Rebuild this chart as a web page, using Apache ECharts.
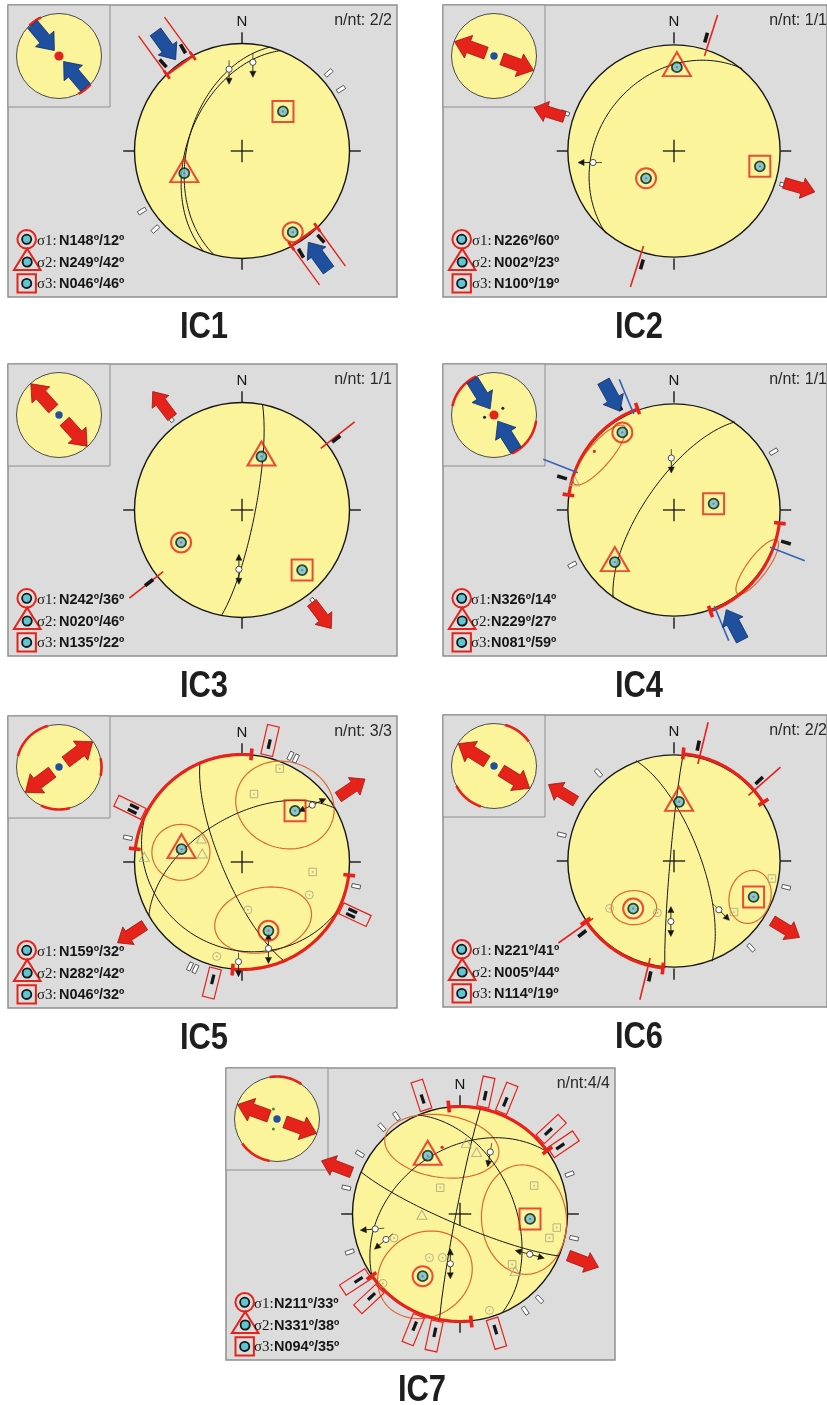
<!DOCTYPE html>
<html>
<head>
<meta charset="utf-8">
<script src="https://cdn.jsdelivr.net/npm/echarts@6/dist/echarts.min.js"></script>
<style>
html,body{margin:0;padding:0;background:#ffffff;}
#chart{width:827px;height:1405px;}
</style>
</head>
<body>
<div id="chart"></div>
<script>
// ================= DATA =================
const panelNames = ['IC1','IC2','IC3','IC4','IC5','IC6','IC7'];
const nntLabels = ['n/nt: 2/2','n/nt: 1/1','n/nt: 1/1','n/nt: 1/1','n/nt: 3/3','n/nt: 2/2','n/nt:4/4'];
// principal stress axes [trend, plunge]
const sigma1 = [[148,12],[226,60],[242,36],[326,14],[159,32],[221,41],[211,33]];
const sigma2 = [[249,42],[2,23],[20,46],[229,27],[282,42],[5,44],[331,38]];
const sigma3 = [[46,46],[100,19],[135,22],[81,59],[46,32],[114,19],[94,35]];
const legendSpace = [true,true,true,false,true,true,false];
// C = compression (blue arrows), E = extension (red arrows)
const regime = ['C','E','E','C','E','E','E'];
// fault planes [dip direction, dip]
const faultPlanes = [
  [[285,48],[291,48]],
  [[310,30]],
  [[101,80]],
  [[305,68]],
  [[247,75],[330,55],[206,20]],
  [[275,87],[69,70]],
  [[203,82],[281,87],[67,48],[325,40]]
];
// slip lineations [trend, plunge, arrow azimuth, double-headed?]
const slipLineations = [
  [[351,24,180,0],[7,18,180,0]],
  [[262,24,270,0]],
  [[183,44,0,1]],
  [[357,50,180,0]],
  [[51,17,65,1],[163,17,0,1],[182,8,180,0]],
  [[183,43,0,1],[137,38,135,0]],
  [[260,21,265,0],[251,28,230,0],[26,36,190,0],[191,51,0,1],[120,26,105,1]]
];
// individual solutions (grey symbols) [trend, plunge]
const graySquares = [[],[],[],[],[[22,7],[10,36],[98,34]],[[100,7],[130,27]],[[323,65],[69,27],[98,10],[105,15],[134,33]]];
const grayTriangles = [[],[],[],[[286,3]],[[300,54],[282,59],[273,10]],[],[[5,34],[15,40],[269,61],[136,27]]];
const grayCircles = [[],[],[],[],[[116,31],[173,53],[195,10]],[[234,26],[198,48]],[[250,35],[215,49],[202,54],[163,7],[228,4]]];
const smallRedDots = [[],[],[],[[306,8]],[],[],[[345,36]]];
// confidence ellipses [trend, plunge of centre, semi-axis a, semi-axis b, rotation deg]
const ellipses = [
  [],[],[],
  [[306,14,0.357,0.11,49],[124,6,0.31,0.093,53]],
  [[37,34,0.465,0.40,-20],[279,42,0.27,0.26,0],[160,42,0.456,0.30,12]],
  [[221,42,0.214,0.158,0],[115,22,0.25,0.195,75]],
  [[345,35,0.535,0.29,-8],[95,40,0.51,0.395,95],[210,35,0.456,0.39,30]]
];
// horizontal stress direction arrows (azimuth)
const bigArrowAz = [[324,144],[287,106],[323,143],[331,152],[56,237],[301,121],[291,111]];
const insetArrowAz = [320,290,318,328,53,302,290];
const insetArcs = [[[316,335],[132,153]],[],[],[[282,335],[98,155]],[[285,345],[78,102],[165,205]],[[15,55],[198,242]],[[350,395],[190,235]]];
const insetDots = [[],[],[],[[256,0.23],[53,0.26]],[],[],[[340,0.25],[200,0.25]]];
// perimeter marks (azimuths)
const perimArcs = [[],[],[],[[278,340],[97,160]],[[277,365],[97,185]],[[5,57],[186,236]],[[354,414],[174,235]]];
const brackets = [[324,144],[],[],[],[],[],[]];
const redLines = [[],[18,198],[52,232],[],[],[14,49,194,235],[]];
const blueLines = [[],[],[],[291,111,337,157],[],[],[]];
const blackBars = [[318,330,138,150],[16,196],[53,232],[286,106,332],[],[12,47,192,232],[]];
const whiteBars = [
  [[48,1],[58,1],[228,1],[239,1]],
  [[289,1],[107,1]],
  [[322,1],[142,1]],
  [[60,1],[242,1]],
  [[26,2],[282,1],[102,1],[205,2]],
  [[319,1],[283,1],[103,1],[138,1]],
  [[327,1],[318,1],[301,1],[283,1],[251,1],[70,1],[102,1],[137,1],[146,1]]
];
const redBoxes = [[],[],[],[],[[13,1],[296,2],[115,2],[194,1]],[],[[342,1],[12,1],[22,1],[47,1],[56,1],[237,1],[227,1],[202,1],[192,1],[163,1]]];

// ================= STYLE / LAYOUT =================
const D = Math.PI / 180;
const YEL = '#fcf49a', RED = '#e5231b', RED_D = '#9e1510', BLUE = '#1f50a0', BLUE_D = '#0e2d63', BLUE_L = '#3563b8';
const TEAL = '#5dc6d3', ORANGE = '#dd6a2e', GRAY = '#a3a283', INK = '#161616', PANEL = '#dcdcdc', BORDER = '#8e8e8e';
const W = 389, H = 292, CX = 234, CY = 146, RR = 107.5, INS = 102, INR = 42.5;
const panelOrigin = [[8,5],[443,5],[8,364],[443,364],[8,716],[443,715],[226,1068]];
const SANS = '"Liberation Sans", Arial, Helvetica, sans-serif';

function pol(az, r) { return [r * Math.sin(az * D), r * Math.cos(az * D)]; }
function proj(tp) { return pol(tp[0], Math.SQRT2 * Math.sin((90 - tp[1]) / 2 * D)); }
function greatCircle(dd, dip) {
  const pts = [];
  for (let a = -90; a <= 90; a += 1) {
    const ad = Math.atan(Math.tan(dip * D) * Math.cos(a * D)) / D;
    pts.push(proj([dd + a, ad]));
  }
  return pts;
}
function seg(p, q, color, w) { return {type:'line', shape:{x1:p[0], y1:p[1], x2:q[0], y2:q[1]}, style:{stroke:color, lineWidth:w}}; }
function poly(points, fill, stroke, w) { return {type:'polygon', shape:{points:points}, style:{fill:fill, stroke:stroke, lineWidth:w || 0}}; }
function unitDir(p, q) { const dx = q[0]-p[0], dy = q[1]-p[1], L = Math.hypot(dx, dy) || 1; return [dx/L, dy/L]; }
function bandPts(p, q, w, off) {
  const u = unitDir(p, q), n = [-u[1], u[0]], a = off + w/2, b = off - w/2;
  return [[p[0]+n[0]*a, p[1]+n[1]*a], [q[0]+n[0]*a, q[1]+n[1]*a], [q[0]+n[0]*b, q[1]+n[1]*b], [p[0]+n[0]*b, p[1]+n[1]*b]];
}
function offsetSeg(p, q, off) { const u = unitDir(p, q), n = [-u[1], u[0]]; return [[p[0]+n[0]*off, p[1]+n[1]*off], [q[0]+n[0]*off, q[1]+n[1]*off]]; }
function arrowPts(t, h, bw, hw, hl) {
  const u = unitDir(t, h), n = [-u[1], u[0]], b = [h[0]-u[0]*hl, h[1]-u[1]*hl];
  return [[t[0]+n[0]*bw, t[1]+n[1]*bw], [b[0]+n[0]*bw, b[1]+n[1]*bw], [b[0]+n[0]*hw, b[1]+n[1]*hw], h,
          [b[0]-n[0]*hw, b[1]-n[1]*hw], [b[0]-n[0]*bw, b[1]-n[1]*bw], [t[0]-n[0]*bw, t[1]-n[1]*bw]];
}
function txt(x, y, s, font, align, fill) {
  return {type:'text', x:x, y:y, z:100, style:{text:s, font:font, fill:fill || INK, align:align, textAlign:align, verticalAlign:'middle', textVerticalAlign:'middle'}};
}
function fmtAxis(v) { return 'N' + String(v[0]).padStart(3, '0') + 'º/' + String(v[1]).padStart(2, '0') + 'º'; }

// ================= RENDERERS =================
function baseItem(params, api) {
  const C = (az, r) => api.coord(pol(az, r));
  const o = api.coord([0, 0]), s = api.size([1, 1])[0];
  const ch = [{type:'circle', shape:{cx:o[0], cy:o[1], r:s}, style:{fill:YEL, stroke:INK, lineWidth:1.4}}];
  [0, 90, 180, 270].forEach(a => ch.push(seg(C(a, 1), C(a, 1.105), INK, 1.4)));
  ch.push(seg(api.coord([-0.105, 0]), api.coord([0.105, 0]), INK, 1.3));
  ch.push(seg(api.coord([0, -0.105]), api.coord([0, 0.105]), INK, 1.3));
  const n = C(0, 1.205);
  ch.push({type:'text', x:n[0], y:n[1], style:{text:'N', font:'15px ' + SANS, fill:INK, align:'center', verticalAlign:'middle'}});
  return {type:'group', children:ch};
}
function ellipseItem(p) {
  return function (params, api) {
    const e = ellipses[p][params.dataIndex];
    const cx = api.value(0), cy = api.value(1), rot = e[4] * D, pts = [];
    for (let t = 0; t <= 360; t += 4) {
      const x = e[2] * Math.cos(t * D), y = e[3] * Math.sin(t * D);
      pts.push(api.coord([cx + x*Math.cos(rot) - y*Math.sin(rot), cy + x*Math.sin(rot) + y*Math.cos(rot)]));
    }
    return {type:'polyline', shape:{points:pts}, style:{fill:null, stroke:ORANGE, lineWidth:1.2}};
  };
}
function perimItem(p) {
  return function (params, api) {
    const C = (az, r) => api.coord(pol(az, r));
    const ch = [];
    const comp = regime[p] === 'C';
    perimArcs[p].forEach(([a1, a2]) => {
      const pts = [];
      for (let a = a1; a <= a2 + 0.01; a += 1) pts.push(C(a, 1));
      ch.push({type:'polyline', shape:{points:pts}, style:{stroke:RED, lineWidth:3.2, fill:null}});
      [a1, a2].forEach(a => ch.push(seg(C(a, 0.95), C(a, 1.06), RED, 3.6)));
    });
    redLines[p].forEach(a => ch.push(seg(C(a, 0.93), C(a, 1.33), RED, 1.6)));
    blueLines[p].forEach(a => ch.push(seg(C(a, 0.97), C(a, 1.32), BLUE_L, 1.6)));
    brackets[p].forEach(az => {
      const a = C(az, 0.985), b = C(az, 1.5), u = unitDir(a, b), n = [-u[1], u[0]];
      const e1 = [a[0]+n[0]*16, a[1]+n[1]*16], e2 = [a[0]-n[0]*16, a[1]-n[1]*16];
      [e1, e2].forEach(e => {
        ch.push(seg([e[0]-u[0]*4, e[1]-u[1]*4], [e[0]+u[0]*48, e[1]+u[1]*48], RED, 1.4));
        ch.push(seg([e[0]-u[0]*5, e[1]-u[1]*5], [e[0]+u[0]*5, e[1]+u[1]*5], RED, 2.8));
      });
      ch.push(seg(e1, e2, RED, 2.6));
    });
    redBoxes[p].forEach(([a, k]) => {
      const p1 = C(a, 1.02), p2 = C(a, 1.30);
      ch.push(poly(bandPts(p1, p2, 12, 0), 'rgba(0,0,0,0)', RED, 1.2));
      const q1 = C(a, 1.08), q2 = C(a, 1.17);
      const offs = k === 2 ? [-2.6, 2.6] : [0];
      offs.forEach(o => { const s2 = offsetSeg(q1, q2, o); ch.push(seg(s2[0], s2[1], INK, 3.2)); });
    });
    whiteBars[p].forEach(([a, k]) => {
      const p1 = C(a, 1.045), p2 = C(a, 1.125);
      const offs = k === 2 ? [-3, 3] : [0];
      offs.forEach(o => ch.push(poly(bandPts(p1, p2, 3.8, o), '#ffffff', '#333333', 0.8)));
    });
    blackBars[p].forEach(a => ch.push(seg(C(a, 1.05), C(a, 1.145), INK, 3.6)));
    bigArrowAz[p].forEach(az => {
      const t = comp ? C(az, 1.37) : C(az, 1.08);
      const h = comp ? C(az, 1.05) : C(az, 1.38);
      if (comp) ch.push(poly(arrowPts(t, h, 6.5, 11.5, 14), BLUE, BLUE_D, 0.8));
      else ch.push(poly(arrowPts(t, h, 5.5, 10.5, 13), RED, RED_D, 0.8));
    });
    smallRedDots[p].forEach(v => { const q = api.coord(proj(v)); ch.push({type:'circle', shape:{cx:q[0], cy:q[1], r:1.6}, style:{fill:RED}}); });
    return {type:'group', children:ch};
  };
}
function slipItem(p) {
  return function (params, api) {
    const sl = slipLineations[p][params.dataIndex];
    const c = api.coord([api.value(0), api.value(1)]);
    const ch = [];
    const dirs = sl[3] ? [sl[2], sl[2] + 180] : [sl[2]];
    dirs.forEach(az => {
      const u = [Math.sin(az * D), -Math.cos(az * D)], n = [-u[1], u[0]];
      const e = [c[0]+u[0]*15, c[1]+u[1]*15], b = [e[0]-u[0]*6, e[1]-u[1]*6];
      ch.push(seg([c[0]+u[0]*3, c[1]+u[1]*3], b, INK, 0.9));
      ch.push(poly([e, [b[0]+n[0]*3, b[1]+n[1]*3], [b[0]-n[0]*3, b[1]-n[1]*3]], INK, INK, 0.5));
    });
    if (!sl[3]) {
      const u = [Math.sin(sl[2] * D), -Math.cos(sl[2] * D)];
      ch.push(seg([c[0]-u[0]*3, c[1]-u[1]*3], [c[0]-u[0]*9, c[1]-u[1]*9], INK, 0.7));
    }
    ch.push({type:'circle', shape:{cx:c[0], cy:c[1], r:3.1}, style:{fill:'#ffffff', stroke:'#222222', lineWidth:0.8}});
    return {type:'group', children:ch};
  };
}
function insetItem(p) {
  return function (params, api) {
    const C = (az, r) => api.coord(pol(az, r));
    const o = api.coord([0, 0]), s = api.size([1, 1])[0];
    const comp = regime[p] === 'C';
    const ch = [{type:'circle', shape:{cx:o[0], cy:o[1], r:s}, style:{fill:YEL, stroke:'#4a4a4a', lineWidth:1}}];
    insetArcs[p].forEach(([a1, a2]) => {
      const pts = [];
      for (let a = a1; a <= a2 + 0.01; a += 1) pts.push(C(a, 1));
      ch.push({type:'polyline', shape:{points:pts}, style:{stroke:RED, lineWidth:2.6, fill:null}});
    });
    const az = insetArrowAz[p];
    [az, az + 180].forEach(a => {
      const t = comp ? C(a, 0.97) : C(a, 0.2);
      const h = comp ? C(a, 0.17) : C(a, 0.99);
      ch.push(poly(arrowPts(t, h, 6.2, 12, 15), comp ? BLUE : RED, comp ? BLUE_D : RED_D, 0.8));
    });
    insetDots[p].forEach(([a, r]) => { const q = C(a, r); ch.push({type:'circle', shape:{cx:q[0], cy:q[1], r:1.5}, style:{fill: comp ? '#222222' : '#4b8a3a'}}); });
    ch.push({type:'circle', shape:{cx:o[0], cy:o[1], r: comp ? 4.6 : 3.7}, style:{fill: comp ? RED : BLUE}});
    return {type:'group', children:ch};
  };
}

// ================= BUILD OPTION =================
const grid = [], xAxis = [], yAxis = [], series = [], graphic = [];
function addGrid(L, T, w, h, x0, x1, y0, y1, bw) {
  const gi = grid.length;
  grid.push({left:L, top:T, width:w, height:h, show:true, backgroundColor:PANEL, borderColor:BORDER, borderWidth:bw});
  xAxis.push({type:'value', gridIndex:gi, min:x0, max:x1, show:false, splitLine:{show:false}});
  yAxis.push({type:'value', gridIndex:gi, min:y0, max:y1, show:false, splitLine:{show:false}});
  return gi;
}
function put(gi, s) { s.xAxisIndex = gi; s.yAxisIndex = gi; s.silent = true; s.animation = false; series.push(s); }

panelNames.forEach((name, p) => {
  const [L, T] = panelOrigin[p];
  const gm = addGrid(L, T, W, H, -CX / RR, (W - CX) / RR, -(H - CY) / RR, CY / RR, 1.5);
  const gi = addGrid(L, T, INS, INS, -INS / 2 / INR, INS / 2 / INR, -INS / 2 / INR, INS / 2 / INR, 1);

  put(gm, {type:'custom', renderItem:baseItem, data:[[0, 0]], z:1, clip:false});
  if (ellipses[p].length) put(gm, {type:'custom', renderItem:ellipseItem(p), data:ellipses[p].map(e => proj(e)), z:2, clip:false});
  faultPlanes[p].forEach(fp => put(gm, {type:'line', data:greatCircle(fp[0], fp[1]), showSymbol:false, symbol:'none', lineStyle:{color:INK, width:1}, z:3}));
  put(gm, {type:'custom', renderItem:perimItem(p), data:[[0, 0]], z:4, clip:false});
  const grayStyle = {color:'rgba(0,0,0,0)', borderColor:GRAY, borderWidth:1};
  if (graySquares[p].length) {
    put(gm, {type:'scatter', data:graySquares[p].map(proj), symbol:'rect', symbolSize:7.5, itemStyle:grayStyle, z:4});
    put(gm, {type:'scatter', data:graySquares[p].map(proj), symbol:'circle', symbolSize:1.8, itemStyle:{color:GRAY}, z:4});
  }
  if (grayCircles[p].length) {
    put(gm, {type:'scatter', data:grayCircles[p].map(proj), symbol:'circle', symbolSize:8, itemStyle:grayStyle, z:4});
    put(gm, {type:'scatter', data:grayCircles[p].map(proj), symbol:'circle', symbolSize:1.8, itemStyle:{color:GRAY}, z:4});
  }
  if (grayTriangles[p].length) put(gm, {type:'scatter', data:grayTriangles[p].map(proj), symbol:'triangle', symbolSize:[10, 9], itemStyle:grayStyle, z:4});
  put(gm, {type:'custom', renderItem:slipItem(p), data:slipLineations[p].map(proj), z:5, clip:false});
  const ring = {color:'rgba(0,0,0,0)', borderColor:RED, borderWidth:2};
  put(gm, {type:'scatter', data:[proj(sigma1[p])], symbol:'circle', symbolSize:20, itemStyle:ring, z:6});
  put(gm, {type:'scatter', data:[proj(sigma2[p])], symbol:'triangle', symbolSize:[28, 24], symbolOffset:[0, -3], itemStyle:ring, z:6});
  put(gm, {type:'scatter', data:[proj(sigma3[p])], symbol:'rect', symbolSize:21, itemStyle:ring, z:6});
  const axes = [proj(sigma1[p]), proj(sigma2[p]), proj(sigma3[p])];
  put(gm, {type:'scatter', data:axes, symbol:'circle', symbolSize:10, itemStyle:{color:TEAL, borderColor:INK, borderWidth:1.8}, z:7});
  put(gm, {type:'scatter', data:axes, symbol:'circle', symbolSize:2.4, itemStyle:{color:'#c8507a'}, z:8});

  put(gi, {type:'custom', renderItem:insetItem(p), data:[[0, 0]], z:9, clip:false});

  // legend + labels
  const ch = [];
  const sx = 18.7;
  ch.push({type:'circle', z:100, shape:{cx:sx, cy:234.3, r:9.3}, style:{fill:'rgba(0,0,0,0)', stroke:RED, lineWidth:2}});
  ch.push({type:'polygon', z:100, shape:{points:[[sx + 0.5, 243.6], [sx - 12.8, 265], [sx + 13.8, 265]]}, style:{fill:'rgba(0,0,0,0)', stroke:RED, lineWidth:2}});
  ch.push({type:'rect', z:100, shape:{x:sx - 9.2, y:269.2, width:18.4, height:18.4}, style:{fill:'rgba(0,0,0,0)', stroke:RED, lineWidth:2}});
  [[sx, 234.3], [sx + 0.5, 257], [sx, 278.4]].forEach(([x, y]) => {
    ch.push({type:'circle', z:101, shape:{cx:x, cy:y, r:4.6}, style:{fill:TEAL, stroke:INK, lineWidth:1.8}});
  });
  const rows = [[sigma1[p], 'σ1:', 235.7], [sigma2[p], 'σ2:', 258.3], [sigma3[p], 'σ3:', 279]];
  rows.forEach(([v, lab, y]) => {
    ch.push(txt(legendSpace[p] ? 29 : 28, y, lab, '15px "Liberation Serif", "Times New Roman", serif', 'left'));
    ch.push(txt(legendSpace[p] ? 51 : 48, y, fmtAxis(v), 'bold 14.5px ' + SANS, 'left'));
  });
  ch.push(txt(W - 5, 16, nntLabels[p], '16px ' + SANS, 'right', '#2a2a2a'));
  graphic.push({type:'group', x:L, y:T, z:100, silent:true, children:ch});
  const title = txt(L + W / 2 + 1.5, T + H + 31, name, 'bold 36px ' + SANS, 'center', '#1e1e1e');
  title.scaleX = 0.86;
  title.silent = true;
  graphic.push(title);
});

const chart = echarts.init(document.getElementById('chart'), null, {renderer:'canvas', width:827, height:1405});
chart.setOption({animation:false, backgroundColor:'#ffffff', grid:grid, xAxis:xAxis, yAxis:yAxis, series:series, graphic:graphic});
</script>
</body>
</html>
